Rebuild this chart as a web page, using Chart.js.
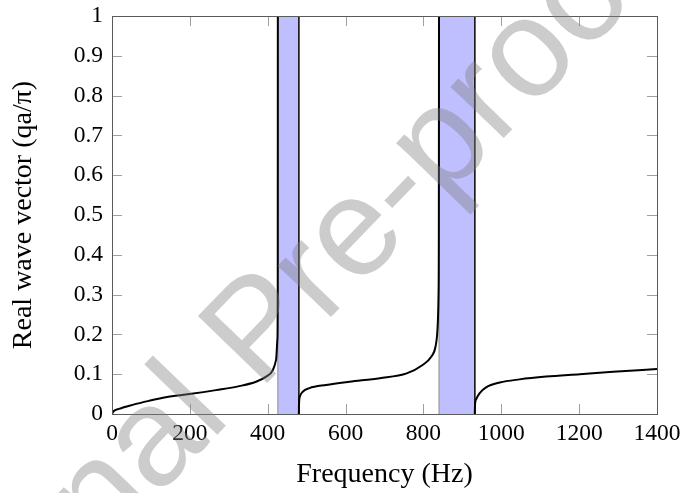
<!DOCTYPE html>
<html>
<head>
<meta charset="utf-8">
<script src="https://cdn.jsdelivr.net/npm/chart.js@4.4.0/dist/chart.umd.min.js"></script>
<style>
  html, body { margin: 0; padding: 0; background: #ffffff; }
  canvas { display: block; }
</style>
</head>
<body>
<canvas id="chart" width="682" height="493"></canvas>
<script>
// ---- data ----
const branch1Hz = [0, 4, 18, 53, 95, 138, 199, 267, 327, 370, 396, 413, 421.5, 425, 425.8, 426];
const branch1Q  = [0, 0.007, 0.013, 0.023, 0.033, 0.042, 0.050, 0.060, 0.070, 0.081, 0.094, 0.110, 0.136, 0.19, 0.32, 1];

const branch2Hz = [480, 480.4, 483, 490, 507, 550, 610, 688, 757, 798, 820, 831, 836, 838.8, 839.6, 840];
const branch2Q  = [0, 0.025, 0.045, 0.056, 0.065, 0.073, 0.081, 0.090, 0.102, 0.123, 0.144, 0.169, 0.211, 0.30, 0.45, 1];

const branch3Hz = [932, 932.4, 935, 944, 961, 996, 1047, 1115, 1202, 1287, 1400];
const branch3Q  = [0, 0.020, 0.036, 0.052, 0.067, 0.079, 0.087, 0.094, 0.100, 0.106, 0.113];

const gapStartHz = [426, 840];
const gapEndHz   = [480, 932];

const xTickValues = [0, 200, 400, 600, 800, 1000, 1200, 1400];
const xTickLabels = ['0', '200', '400', '600', '800', '1000', '1200', '1400'];
const yTickValues = [0, 0.1, 0.2, 0.3, 0.4, 0.5, 0.6, 0.7, 0.8, 0.9, 1];
const yTickLabels = ['0', '0.1', '0.2', '0.3', '0.4', '0.5', '0.6', '0.7', '0.8', '0.9', '1'];

const xTitle = 'Frequency (Hz)';
const yTitle = 'Real wave vector (qa/\u03c0)';
const watermarkText = 'Journal Pre-proof';

// ---- build datasets ----
const toPts = (xs, ys) => xs.map((x, i) => ({ x: x, y: ys[i] }));

const curveDatasets = [
  toPts(branch1Hz, branch1Q),
  toPts(branch2Hz, branch2Q),
  toPts(branch3Hz, branch3Q)
].map(pts => ({
  data: pts,
  borderColor: '#000000',
  borderWidth: 2,
  pointRadius: 0,
  fill: false,
  cubicInterpolationMode: 'monotone',
  order: 0
}));

const gapDatasets = gapStartHz.map((s, i) => ({
  data: [{ x: s, y: 0 }, { x: s, y: 1 }, { x: gapEndHz[i], y: 1 }, { x: gapEndHz[i], y: 0 }],
  backgroundColor: 'rgb(191,191,255)',
  borderWidth: 1,
  segment: {
    borderColor: ctx => ctx.p0DataIndex === 0 ? '#8c8c8c' : '#1a1a1a'
  },
  pointRadius: 0,
  tension: 0,
  fill: 'origin',
  order: 1
}));

const serif = "'Liberation Serif', 'Times New Roman', serif";

// frame + inward ticks on all four sides
const frameTicks = {
  id: 'frameTicks',
  afterDatasetsDraw(chart) {
    const { ctx, chartArea } = chart;
    const { left, right, top, bottom } = chartArea;
    const xs = chart.scales.x, ys = chart.scales.y;
    const tl = 10;
    ctx.save();
    ctx.lineWidth = 1;
    ctx.strokeStyle = '#a0a0a0';
    ctx.beginPath();
    xTickValues.forEach(v => {
      const px = Math.round(xs.getPixelForValue(v)) + 0.5;
      ctx.moveTo(px, bottom); ctx.lineTo(px, bottom - tl);
      ctx.moveTo(px, top); ctx.lineTo(px, top + tl);
    });
    yTickValues.forEach(v => {
      const py = Math.round(ys.getPixelForValue(v)) + 0.5;
      ctx.moveTo(left, py); ctx.lineTo(left + tl, py);
      ctx.moveTo(right, py); ctx.lineTo(right - tl, py);
    });
    ctx.stroke();
    ctx.strokeStyle = '#5a5a5a';
    ctx.strokeRect(Math.round(left) + 0.5, Math.round(top) + 0.5,
                   Math.round(right) - Math.round(left), Math.round(bottom) - Math.round(top));
    ctx.restore();
  }
};

// light grey diagonal watermark over everything
const watermark = {
  id: 'watermark',
  afterDraw(chart) {
    const ctx = chart.ctx;
    ctx.save();
    ctx.translate(289, 360.5);
    ctx.rotate(-46 * Math.PI / 180);
    ctx.font = "140px 'Liberation Sans', Arial, sans-serif";
    ctx.fillStyle = 'rgba(128,128,128,0.4)';
    ctx.textAlign = 'center';
    ctx.textBaseline = 'alphabetic';
    ctx.fillText(watermarkText, 0, 0);
    ctx.restore();
  }
};

new Chart(document.getElementById('chart'), {
  type: 'line',
  data: { datasets: [...curveDatasets, ...gapDatasets] },
  options: {
    responsive: false,
    animation: false,
    devicePixelRatio: 1,
    layout: { padding: { left: 0, right: 25, top: 16, bottom: 0 } },
    plugins: { legend: { display: false }, tooltip: { enabled: false } },
    scales: {
      x: {
        type: 'linear',
        min: 0, max: 1400,
        afterBuildTicks: s => { s.ticks = xTickValues.map(v => ({ value: v })); },
        afterFit: s => { s.height = 79; s.paddingLeft = 0; s.paddingRight = 0; },
        grid: { display: false, drawTicks: false },
        border: { display: false },
        ticks: {
          padding: 6,
          color: '#000000',
          font: { family: serif, size: 23.5 },
          callback: (v, i) => xTickLabels[i]
        },
        title: {
          display: true,
          text: xTitle,
          color: '#000000',
          font: { family: serif, size: 28 },
          padding: { top: 0, bottom: 2 }
        }
      },
      y: {
        type: 'linear',
        min: 0, max: 1,
        afterBuildTicks: s => { s.ticks = yTickValues.map(v => ({ value: v })); },
        afterFit: s => { s.width = 112; s.paddingTop = 0; s.paddingBottom = 0; },
        grid: { display: false, drawTicks: false },
        border: { display: false },
        ticks: {
          padding: 9,
          color: '#000000',
          font: { family: serif, size: 23.5 },
          callback: (v, i) => yTickLabels[i]
        },
        title: {
          display: true,
          text: yTitle,
          color: '#000000',
          font: { family: serif, size: 28 },
          padding: { top: 7, bottom: 0 }
        }
      }
    }
  },
  plugins: [frameTicks, watermark]
});
</script>
</body>
</html>
